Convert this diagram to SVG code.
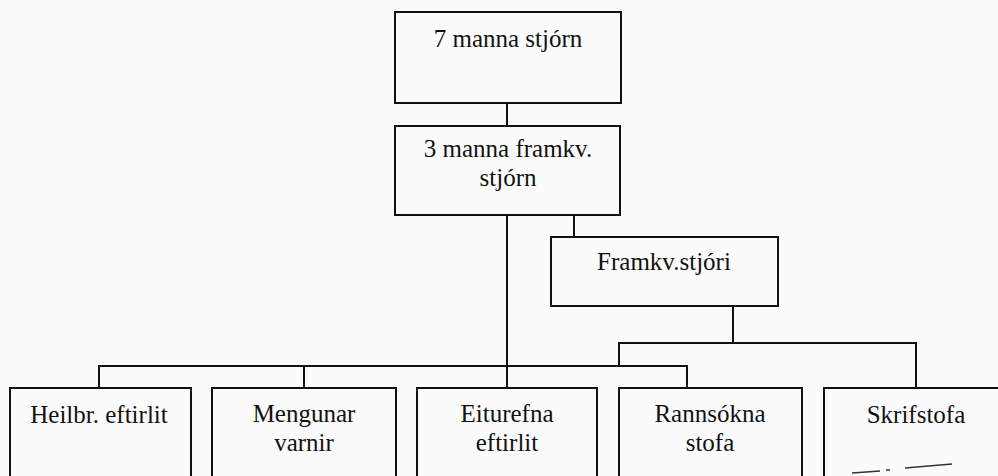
<svg xmlns="http://www.w3.org/2000/svg" width="998" height="476" viewBox="0 0 998 476">
<style>
.box{fill:none;stroke:#111;stroke-width:2}
.ln{fill:none;stroke:#111;stroke-width:2}
text{font-family:"Liberation Serif","Times New Roman",serif;font-size:25px;fill:#111;text-anchor:middle}
</style>
<rect width="998" height="476" fill="#fbfbfb"/>
<g id="connectors">
<line class="ln" x1="507" y1="103" x2="507" y2="126"/>
<line class="ln" x1="507" y1="215" x2="507" y2="388"/>
<line class="ln" x1="574" y1="215" x2="574" y2="237"/>
<line class="ln" x1="733" y1="306" x2="733" y2="343"/>
<polyline class="ln" points="619,366 619,343 916,343 916,388"/>
<polyline class="ln" points="99,388 99,366 687,366 687,388"/>
<line class="ln" x1="304" y1="366" x2="304" y2="388"/>
</g>
<g id="n-stjorn7">
<rect class="box" x="395" y="12" width="226" height="91"/>
<text x="508" y="47">7 manna stjórn</text>
</g>
<g id="n-stjorn3">
<rect class="box" x="395" y="126" width="225" height="89"/>
<text x="508" y="157">3 manna framkv.</text>
<text x="508" y="186">stjórn</text>
</g>
<g id="n-framkvstjori">
<rect class="box" x="551" y="237" width="227" height="69"/>
<text x="664" y="270">Framkv.stjóri</text>
</g>
<g id="n-heilbr">
<rect class="box" x="10" y="388" width="181" height="100"/>
<text x="99" y="423">Heilbr. eftirlit</text>
</g>
<g id="n-mengunar">
<rect class="box" x="212" y="388" width="184" height="100"/>
<text x="304" y="422">Mengunar</text>
<text x="304" y="451">varnir</text>
</g>
<g id="n-eiturefna">
<rect class="box" x="417" y="388" width="180" height="100"/>
<text x="507" y="422">Eiturefna</text>
<text x="507" y="451">eftirlit</text>
</g>
<g id="n-rannsokna">
<rect class="box" x="619" y="388" width="183" height="100"/>
<text x="710" y="422">Rannsókna</text>
<text x="710" y="451">stofa</text>
</g>
<g id="n-skrifstofa">
<rect class="box" x="824" y="388" width="190" height="100"/>
<text x="916" y="423">Skrifstofa</text>
<path d="M852,473 L880,471 M886,470 L890,470 M905,468 L952,464" fill="none" stroke="#333" stroke-width="1.5"/>
</g>
</svg>
